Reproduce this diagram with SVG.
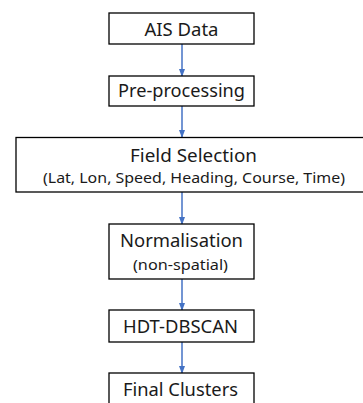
<svg xmlns="http://www.w3.org/2000/svg" width="363" height="403" viewBox="0 0 363 403">
<style>
.box{fill:#fff;stroke:#000;stroke-width:1.3}
.t{font-family:"Noto Sans","Open Sans",sans-serif;font-size:17.5px;fill:#1a1a1a;text-anchor:middle}
.s{font-family:"Noto Sans","Open Sans",sans-serif;font-size:14.5px;fill:#1a1a1a;text-anchor:middle}
.c{stroke:#4472C4;stroke-width:1.5;fill:none;marker-end:url(#ah)}
</style>
<defs>
<marker id="ah" markerWidth="8" markerHeight="6" refX="7" refY="3" orient="auto" markerUnits="userSpaceOnUse">
<path d="M0,0 L8,3 L0,6 Z" fill="#4472C4"/>
</marker>
</defs>
<rect width="363" height="403" fill="#fff"/>
<g id="connectors">
<line class="c" x1="182" y1="44" x2="182" y2="76"/>
<line class="c" x1="182" y1="106" x2="182" y2="137"/>
<line class="c" x1="182" y1="192" x2="182" y2="224"/>
<line class="c" x1="182" y1="279" x2="182" y2="310"/>
<line class="c" x1="182" y1="342" x2="182" y2="373"/>
</g>
<g id="ais">
<rect class="box" x="109" y="13" width="145" height="31"/>
<text class="t" x="181.5" y="36" textLength="74" lengthAdjust="spacingAndGlyphs">AIS Data</text>
</g>
<g id="pre">
<rect class="box" x="109" y="76" width="145" height="30"/>
<text class="t" x="181.5" y="97" textLength="127" lengthAdjust="spacingAndGlyphs">Pre-processing</text>
</g>
<g id="field">
<rect class="box" x="16" y="137.5" width="360" height="54.5"/>
<text class="t" x="193.5" y="162" textLength="127" lengthAdjust="spacingAndGlyphs">Field Selection</text>
<text class="s" x="194" y="183" textLength="302" lengthAdjust="spacingAndGlyphs">(Lat, Lon, Speed, Heading, Course, Time)</text>
</g>
<g id="norm">
<rect class="box" x="109" y="224" width="145" height="55"/>
<text class="t" x="181.5" y="247" textLength="123" lengthAdjust="spacingAndGlyphs">Normalisation</text>
<text class="s" x="180.5" y="270" textLength="95" lengthAdjust="spacingAndGlyphs">(non-spatial)</text>
</g>
<g id="hdt">
<rect class="box" x="109" y="310" width="145" height="32"/>
<text class="t" x="180.5" y="333" textLength="115" lengthAdjust="spacingAndGlyphs">HDT-DBSCAN</text>
</g>
<g id="final">
<rect class="box" x="109" y="373" width="145" height="40"/>
<text class="t" x="180.5" y="396" textLength="115" lengthAdjust="spacingAndGlyphs">Final Clusters</text>
</g>
</svg>
